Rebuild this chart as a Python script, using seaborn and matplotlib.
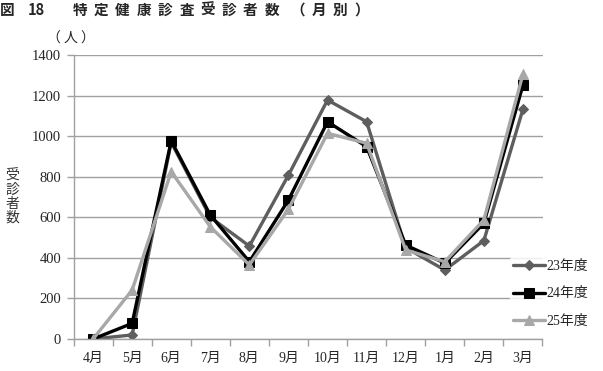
import matplotlib
matplotlib.use("Agg")
import matplotlib.pyplot as plt
import seaborn as sns
import pandas as pd
import numpy as np

months = ["4月", "5月", "6月", "7月", "8月", "9月", "10月", "11月", "12月", "1月", "2月", "3月"]
v23 = [0, 20, 970, 600, 458, 808, 1178, 1071, 450, 340, 485, 1133]
v24 = [0, 77, 977, 611, 381, 685, 1071, 948, 463, 374, 571, 1252]
v25 = [0, 241, 825, 553, 365, 640, 1014, 965, 439, 381, 587, 1306]
series = ["23年度", "24年度", "25年度"]
yticks = [0, 200, 400, 600, 800, 1000, 1200, 1400]

sns.set_theme(style="white")
plt.rcParams['font.family'] = ['Liberation Serif', 'Noto Sans CJK JP']

df = pd.DataFrame({
    "x": list(range(len(months))) * 3,
    "value": v23 + v24 + v25,
    "series": [series[0]] * 12 + [series[1]] * 12 + [series[2]] * 12,
})

fig = plt.figure(figsize=(6.03, 3.71), dpi=100)
ax = fig.add_axes([73.5 / 603, 32 / 371, 469 / 603, 284 / 371])

palette = {"23年度": "#5e5e5e", "24年度": "#000000", "25年度": "#a8a8a8"}
markers = {"23年度": "D", "24年度": "s", "25年度": "^"}
sizes = {"23年度": 5.5, "24年度": 7, "25年度": 7.5}

for s in series:
    sub = df[df.series == s]
    sns.lineplot(data=sub, x="x", y="value", ax=ax, color=palette[s], marker=markers[s],
                 markersize=sizes[s], markeredgecolor=palette[s], linewidth=2.4, label=s)

ax.set_xlim(-0.5, 11.5)
ax.set_ylim(0, 1400)
ax.set_xticks(range(12))
ax.set_xticklabels(months, fontsize=10)
ax.set_xticks(np.arange(-0.5, 12, 1), minor=True)
ax.tick_params(axis="x", which="major", length=0, pad=9)
ax.tick_params(axis="x", which="minor", length=5, color="#a0a0a0", width=1, direction="out", bottom=True)
ax.set_yticks(yticks)
ax.set_yticklabels([str(t) for t in yticks], fontsize=10.5)
ax.tick_params(axis="y", length=5, color="#a0a0a0", width=1, direction="out", left=True, pad=4)
ax.yaxis.grid(True, color="#a0a0a0", linewidth=1)
ax.set_axisbelow(True)
for sp in ["top", "right"]:
    ax.spines[sp].set_visible(False)
for sp in ["left", "bottom"]:
    ax.spines[sp].set_color("#a0a0a0")
    ax.spines[sp].set_linewidth(1)
ax.set_xlabel("")
ax.set_ylabel("")

leg = ax.legend(loc="upper left", bbox_to_anchor=(510 / 603, 1 - 257 / 371), bbox_transform=fig.transFigure,
                frameon=True, fontsize=10, handlelength=2.3, handletextpad=0.1,
                labelspacing=1.05, borderpad=0.2, borderaxespad=0)
leg.get_frame().set_facecolor("white")
leg.get_frame().set_edgecolor("white")

title_chars = [("図", 7), ("18", 36), ("特", 80), ("定", 101.3), ("健", 122.6), ("康", 143.9),
               ("診", 165.2), ("査", 186.5), ("受", 207.8), ("診", 229.1), ("者", 250.4), ("数", 271.7),
               ("（", 298), ("月", 319), ("別", 340), ("）", 362)]
for ch, xc in title_chars:
    fig.text(xc / 603, 1 - 10 / 371, ch, fontsize=10.5, fontweight="bold", va="center", ha="center",
             family=["Noto Sans CJK JP"])
fig.text(47 / 603, 1 - 39 / 371, "（ 人 ）", fontsize=10, va="center", ha="left", family=["Noto Sans CJK JP"])
fig.text(12 / 603, 1 - 197 / 371, "受\n診\n者\n数", fontsize=10, va="center", ha="center",
         linespacing=1.0, color="#333333", family=["Noto Sans CJK JP"])

fig.savefig("out.png", dpi=100, facecolor="white")
